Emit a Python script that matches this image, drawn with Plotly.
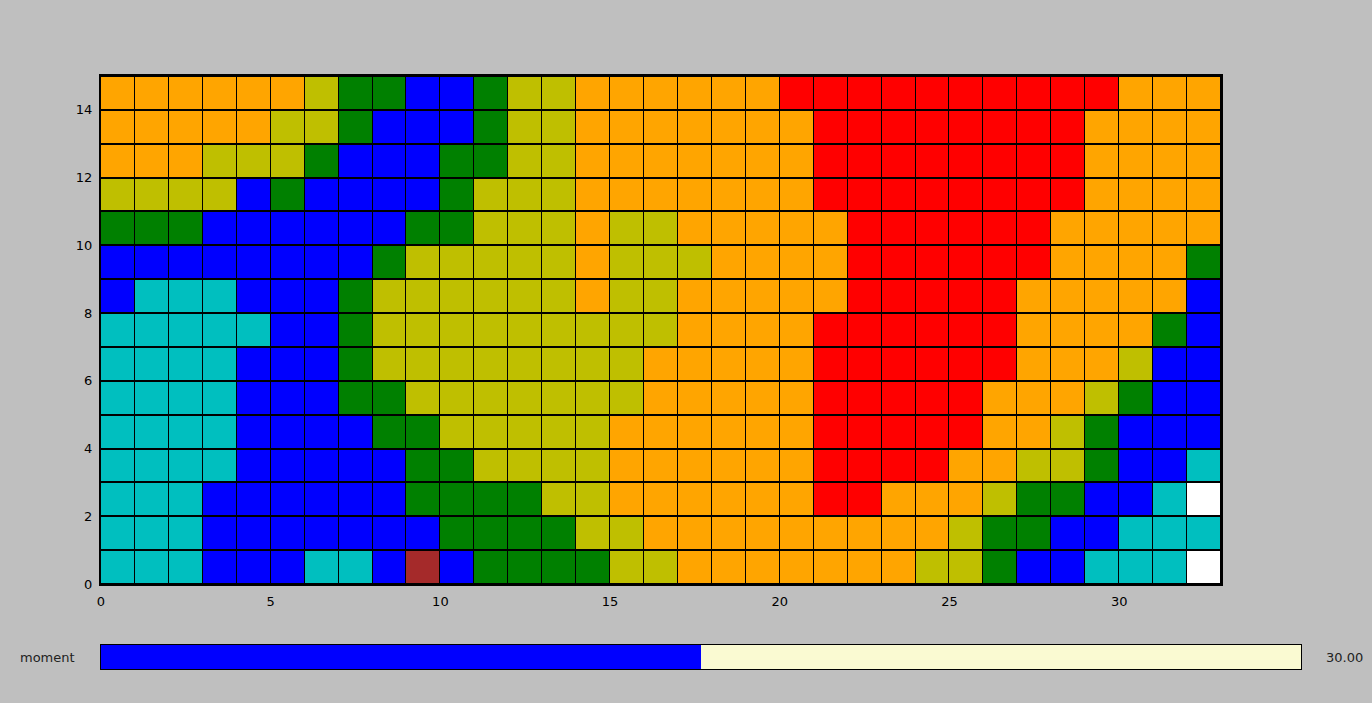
import plotly.graph_objects as go

# Category grid, one string per row, from top row (y=14..15) down to bottom row (y=0..1)
# O orange, Y olive, G green, B blue, C cyan, R red, N brown, W white
rows_top_to_bottom = [
    "OOOOOOYGGBBGYYOOOOOORRRRRRRRRROOO",
    "OOOOOYYGBBBGYYOOOOOOORRRRRRRROOOO",
    "OOOYYYGBBBGGYYOOOOOOORRRRRRRROOOO",
    "YYYYBGBBBBGYYYOOOOOOORRRRRRRROOOO",
    "GGGBBBBBBGGYYYOYYOOOOORRRRRROOOOO",
    "BBBBBBBBGYYYYYOYYYOOOORRRRRROOOOG",
    "BCCCBBBGYYYYYYOYYOOOOORRRRROOOOOB",
    "CCCCCBBGYYYYYYYYYOOOORRRRRROOOOGB",
    "CCCCBBBGYYYYYYYYOOOOORRRRRROOOYBB",
    "CCCCBBBGGYYYYYYYOOOOORRRRROOOYGBB",
    "CCCCBBBBGGYYYYYOOOOOORRRRROOYGBBB",
    "CCCCBBBBBGGYYYYOOOOOORRRROOYYGBBC",
    "CCCBBBBBBGGGGYYOOOOOORROOOYGGBBCW",
    "CCCBBBBBBBGGGGYYOOOOOOOOOYGGBBCCC",
    "CCCBBBCCBNBGGGGYYOOOOOOOYYGBBCCCW",
]
category_codes = {"W": 0, "C": 1, "B": 2, "G": 3, "Y": 4, "O": 5, "R": 6, "N": 7}
category_colors = ["#FFFFFF", "#00BFBF", "#0000FF", "#008000",
                   "#BFBF00", "#FFA500", "#FF0000", "#A52A2A"]
x_ticks = [0, 5, 10, 15, 20, 25, 30]
y_ticks = [0, 2, 4, 6, 8, 10, 12, 14]
slider_label = "moment"
slider_min = 0
slider_max = 60
slider_value = 30.0

n_rows = len(rows_top_to_bottom)
n_cols = len(rows_top_to_bottom[0])
z = [[category_codes[ch] for ch in row] for row in reversed(rows_top_to_bottom)]
x_centers = [i + 0.5 for i in range(n_cols)]
y_centers = [j + 0.5 for j in range(n_rows)]

n_cat = len(category_colors)
colorscale = []
for k, c in enumerate(category_colors):
    colorscale.append([k / n_cat, c])
    colorscale.append([(k + 1) / n_cat, c])

W, H = 1372, 703
def px_x(p):
    return p / W
def px_y(p):
    return 1 - p / H

fig = go.Figure()
fig.add_trace(go.Heatmap(
    z=z, x=x_centers, y=y_centers,
    colorscale=colorscale, zmin=-0.5, zmax=n_cat - 0.5,
    showscale=False, xgap=1, ygap=2, hoverinfo="skip",
    xaxis="x", yaxis="y",
))

# slider: filled part up to the value, pale remainder up to the maximum
fig.add_trace(go.Bar(
    x=[slider_value - slider_min], y=[0], base=[slider_min], orientation="h",
    marker=dict(color="#0000FF", line=dict(width=0)), width=1,
    xaxis="x2", yaxis="y2", hoverinfo="skip", showlegend=False,
))
fig.add_trace(go.Bar(
    x=[slider_max - slider_value], y=[0], base=[slider_value], orientation="h",
    marker=dict(color="#FAFAD2", line=dict(width=0)), width=1,
    xaxis="x2", yaxis="y2", hoverinfo="skip", showlegend=False,
))

font = dict(family="DejaVu Sans", size=13, color="#000000")
fig.update_layout(
    width=W, height=H,
    margin=dict(l=0, r=0, t=0, b=0, pad=0, autoexpand=False),
    paper_bgcolor="#BFBFBF",
    plot_bgcolor="#000000",
    showlegend=False,
    barmode="overlay",
    font=font,
    xaxis=dict(domain=[px_x(101), px_x(1221)], range=[0, n_cols],
               tickvals=x_ticks, ticks="", showgrid=False, zeroline=False,
               showline=True, linecolor="#000000", linewidth=2, mirror=True,
               anchor="y", ticklabelstandoff=4, tickfont=font, automargin=False),
    yaxis=dict(domain=[px_y(584), px_y(76)], range=[0, n_rows],
               tickvals=y_ticks, ticks="", showgrid=False, zeroline=False,
               showline=True, linecolor="#000000", linewidth=2, mirror=True,
               anchor="x", ticklabelstandoff=4, tickfont=font, automargin=False),
    xaxis2=dict(domain=[px_x(101), px_x(1301)], range=[slider_min, slider_max],
                showticklabels=False, ticks="", showgrid=False, zeroline=False,
                showline=True, linecolor="#000000", linewidth=1, mirror=True,
                anchor="y2", automargin=False),
    yaxis2=dict(domain=[px_y(669), px_y(645)], range=[-0.5, 0.5],
                showticklabels=False, ticks="", showgrid=False, zeroline=False,
                showline=True, linecolor="#000000", linewidth=1, mirror=True,
                anchor="x2", automargin=False),
    annotations=[
        dict(text=slider_label, xref="paper", yref="paper",
             x=px_x(77), y=px_y(657), xanchor="right", yanchor="middle",
             showarrow=False, font=dict(family="DejaVu Sans", size=13, color="#222222")),
        dict(text=f"{slider_value:.2f}", xref="paper", yref="paper",
             x=px_x(1324), y=px_y(657), xanchor="left", yanchor="middle",
             showarrow=False, font=dict(family="DejaVu Sans", size=13, color="#222222")),
    ],
)

fig.write_html(
    "out.html",
    config={"displayModeBar": False},
    post_script="document.body.style.margin='0';document.body.style.overflow='hidden';",
)
